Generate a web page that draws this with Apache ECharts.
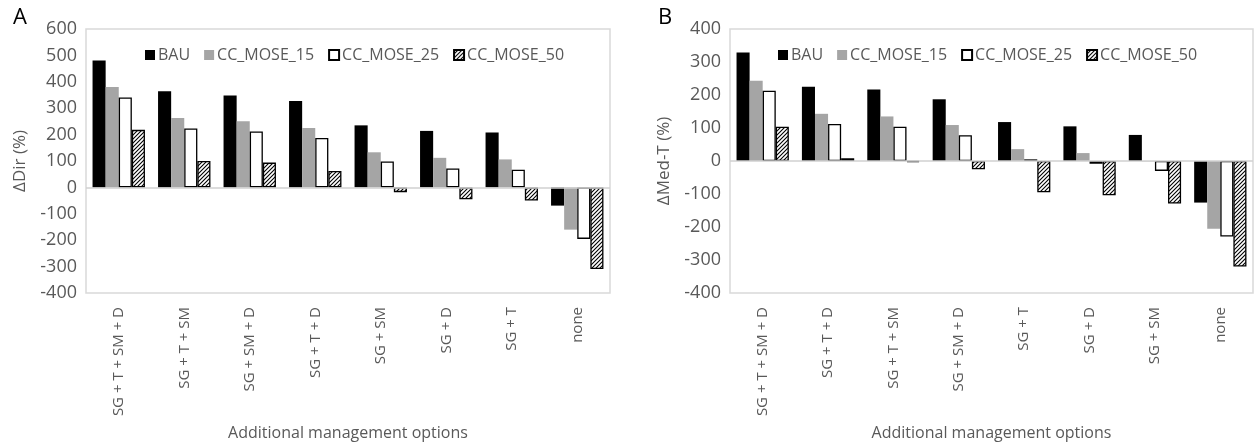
<!DOCTYPE html>
<html>
<head>
<meta charset="utf-8">
<script src="https://cdn.jsdelivr.net/npm/echarts@6/dist/echarts.min.js"></script>
<style>
html,body{margin:0;padding:0;background:#fff;}
#chart{width:1255px;height:448px;}
</style>
</head>
<body>
<div id="chart"></div>
<script>
// ---- data ----
const seriesNames = ['BAU', 'CC_MOSE_15', 'CC_MOSE_25', 'CC_MOSE_50'];

const catsA = ['SG + T + SM + D', 'SG + T + SM', 'SG + SM + D', 'SG + T + D', 'SG + SM', 'SG + D', 'SG + T', 'none'];
const bauA  = [481, 364, 348, 327, 235, 214, 208, -69];
const cc15A = [380, 263, 251, 225, 133, 112, 106, -160];
const cc25A = [341, 223, 212, 187, 98, 72, 67, -195];
const cc50A = [218, 100, 94, 62, -18, -45, -50, -309];

const catsB = ['SG + T + SM + D', 'SG + T + D', 'SG + T + SM', 'SG + SM + D', 'SG + T', 'SG + D', 'SG + SM', 'none'];
const bauB  = [329, 225, 217, 187, 118, 105, 79, -126];
const cc15B = [243, 143, 135, 109, 36, 24, -1, -205];
const cc25B = [213, 112, 104, 78, 5, -8, -30, -229];
const cc50B = [104, 8, -3, -25, -95, -104, -129, -320];

const yTicksA = [-400, 600, 100];   // min, max, interval
const yTicksB = [-400, 400, 100];

// ---- styles ----
const FONT = 'Open Sans';
const TXT = '#595959';

function hatch() {
  const c = document.createElement('canvas');
  c.width = 4; c.height = 4;
  const g = c.getContext('2d');
  g.fillStyle = '#fff'; g.fillRect(0, 0, 4, 4);
  g.strokeStyle = '#000'; g.lineWidth = 1.1;
  g.beginPath();
  g.moveTo(0, 4); g.lineTo(4, 0);
  g.moveTo(-1, 1); g.lineTo(1, -1);
  g.moveTo(3, 5); g.lineTo(5, 3);
  g.stroke();
  return c;
}
const hatchPattern = { image: hatch(), repeat: 'repeat' };

const styles = [
  { color: '#000000' },
  { color: '#a5a5a5' },
  { color: '#ffffff', borderColor: '#000', borderWidth: 1.3 },
  { color: hatchPattern, borderColor: '#000', borderWidth: 1.3 }
];

const chart = echarts.init(document.getElementById('chart'), null, { renderer: 'canvas' });

function mkSeries(idx, dataArr) {
  return dataArr.map((d, i) => ({
    name: seriesNames[i],
    type: 'bar',
    xAxisIndex: idx, yAxisIndex: idx,
    data: d,
    barGap: '0%',
    barCategoryGap: '20%',
    itemStyle: styles[i],
    emphasis: { disabled: true },
    markLine: i === 0 ? {
      silent: true, symbol: 'none', z: 10,
      label: { show: false },
      lineStyle: { color: '#d0d0d0', width: 1.5, type: 'solid' },
      data: [{ yAxis: 0 }]
    } : undefined
  }));
}

function xAx(idx, cats) {
  return {
    type: 'category', gridIndex: idx, data: cats,
    position: 'bottom',
    axisLine: { show: false, onZero: false },
    axisTick: { show: false },
    axisLabel: { rotate: 90, color: TXT, fontFamily: FONT, fontSize: 15, margin: 14, interval: 0 },
    name: 'Additional management options',
    nameLocation: 'middle', nameGap: 132,
    nameTextStyle: { color: TXT, fontFamily: FONT, fontSize: 16 }
  };
}
function yAx(idx, t, nm) {
  return {
    type: 'value', gridIndex: idx, min: t[0], max: t[1], interval: t[2],
    axisLine: { show: false }, axisTick: { show: false },
    splitLine: { show: false },
    axisLabel: { color: TXT, fontFamily: FONT, fontSize: 18, margin: 9 },
    name: nm, nameLocation: 'middle', nameGap: 57, nameRotate: 90,
    nameTextStyle: { color: TXT, fontFamily: FONT, fontSize: 17 }
  };
}
function legend(idx, left) {
  return {
    data: seriesNames, left: left, top: 42,
    itemWidth: 10, itemHeight: 10, itemGap: 14,
    icon: 'rect',
    textStyle: { color: TXT, fontFamily: FONT, fontSize: 16, padding: [0, 0, 0, -2] },
    selectedMode: false
  };
}

chart.setOption({
  animation: false,
  textStyle: { fontFamily: FONT },
  title: [
    { text: 'A', left: 8, top: 2, textStyle: { fontFamily: FONT, fontSize: 22, fontWeight: 'normal', color: '#000' } },
    { text: 'B', left: 653, top: 2, textStyle: { fontFamily: FONT, fontSize: 22, fontWeight: 'normal', color: '#000' } }
  ],
  grid: [
    { left: 86, right: 645, top: 29, bottom: 155, show: true, borderColor: '#d9d9d9', borderWidth: 1.5, containLabel: false },
    { left: 730, right: 2, top: 29, bottom: 155, show: true, borderColor: '#d9d9d9', borderWidth: 1.5, containLabel: false }
  ],
  legend: [legend(0, 140), legend(1, 773)],
  xAxis: [xAx(0, catsA), xAx(1, catsB)],
  yAxis: [yAx(0, yTicksA, 'ΔDir (%)'), yAx(1, yTicksB, 'ΔMed-T (%)')],
  series: [].concat(
    mkSeries(0, [bauA, cc15A, cc25A, cc50A]),
    mkSeries(1, [bauB, cc15B, cc25B, cc50B])
  )
});
</script>
</body>
</html>
